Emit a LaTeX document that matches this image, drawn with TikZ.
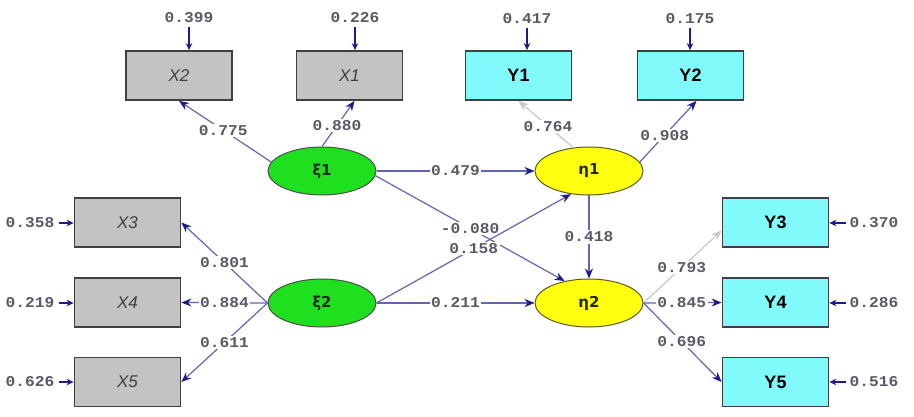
\documentclass[tikz,border=0pt]{standalone}
\usepackage{fontspec}
\newfontfamily\numfont[FakeStretch=1.08]{Liberation Mono}
\newfontfamily\boxfont{Liberation Sans}
\newfontfamily\greekfont{DejaVu Sans}
\usetikzlibrary{arrows.meta,shapes.geometric,calc}
\definecolor{linec}{HTML}{6464B4}
\definecolor{headc}{HTML}{1C1C8C}
\definecolor{numc}{HTML}{5A5A66}
\definecolor{grayfill}{HTML}{C3C3C3}
\definecolor{boxedge}{HTML}{404040}
\definecolor{cyanfill}{HTML}{80FAFA}
\definecolor{greenfill}{HTML}{1EE01E}
\definecolor{yellowfill}{HTML}{FFFF10}
\definecolor{yellowedge}{HTML}{5A5A20}
\definecolor{lightarrow}{HTML}{C8C8C8}
\begin{document}
\begin{tikzpicture}[x=1pt,y=-1pt,
  xbox/.style={rectangle,draw=boxedge,line width=1.8pt,fill=grayfill,minimum width=106pt,minimum height=49pt,inner sep=0pt,font=\boxfont\itshape\fontsize{17}{17}\selectfont,text=black!75},
  ybox/.style={rectangle,draw=boxedge,line width=1.8pt,fill=cyanfill,minimum width=106pt,minimum height=49pt,inner sep=0pt,font=\boxfont\bfseries\fontsize{18}{18}\selectfont,text=black},
  xilat/.style={ellipse,draw=black!70,line width=1pt,fill=greenfill,minimum width=108pt,minimum height=48pt,inner sep=0pt,font=\greekfont\bfseries\fontsize{15}{15}\selectfont,text=black!85},
  etalat/.style={xilat,fill=yellowfill,draw=yellowedge},
  conn/.style={draw=linec,line width=1.2pt,-{Stealth[length=10pt,width=8pt,color=headc]}},
  pale/.style={draw=lightarrow,line width=1.2pt,-{Stealth[length=10pt,width=8pt,color=lightarrow]}},
  lbl/.style={fill=white,inner sep=1.5pt,font=\numfont\bfseries\fontsize{15}{15}\selectfont,text=numc},
  errlbl/.style={inner sep=0pt,font=\numfont\bfseries\fontsize{15}{15}\selectfont,text=numc},
  err/.style={draw=headc,line width=2.2pt,-{Stealth[length=7pt,width=6.5pt]}}
]
\fill[white] (0,0) rectangle (914,417);
\useasboundingbox (0,0) rectangle (914,417);

% observed variables
\node[xbox] (X2) at (179,75.5) {X2};
\node[xbox] (X1) at (349.5,75.5) {X1};
\node[ybox] (Y1) at (518.5,75.5) {Y1};
\node[ybox] (Y2) at (690.5,75.5) {Y2};
\node[xbox] (X3) at (127.5,222.5) {X3};
\node[xbox] (X4) at (127.5,302.5) {X4};
\node[xbox] (X5) at (127.5,382) {X5};
\node[ybox] (Y3) at (775.5,222.5) {Y3};
\node[ybox] (Y4) at (775.5,302.5) {Y4};
\node[ybox] (Y5) at (775.5,382) {Y5};

% latent variables
\node[xilat] (xi1) at (322,171) {ξ1};
\node[xilat] (xi2) at (322,303) {ξ2};
\node[etalat] (eta1) at (589,171) {η1};
\node[etalat] (eta2) at (589,303) {η2};

% error terms
\node[errlbl] (e2) at (189,18) {0.399};
\node[errlbl] (e1) at (355,18) {0.226};
\node[errlbl] (ey1) at (527,19) {0.417};
\node[errlbl] (ey2) at (690,19) {0.175};
\node[errlbl] (e3) at (30,223) {0.358};
\node[errlbl] (e4) at (30,303) {0.219};
\node[errlbl] (e5) at (30,382) {0.626};
\node[errlbl] (ey3) at (874,223) {0.370};
\node[errlbl] (ey4) at (874,303) {0.286};
\node[errlbl] (ey5) at (874,382) {0.516};

\draw[err] ($(e2.south)+(0,4)$) -- (e2.south |- X2.north);
\draw[err] ($(e1.south)+(0,4)$) -- (e1.south |- X1.north);
\draw[err] ($(ey1.south)+(0,4)$) -- (ey1.south |- Y1.north);
\draw[err] ($(ey2.south)+(0,4)$) -- (ey2.south |- Y2.north);
\draw[err] ($(e3.east)+(4,0)$) -- (e3.east -| X3.west);
\draw[err] ($(e4.east)+(4,0)$) -- (e4.east -| X4.west);
\draw[err] ($(e5.east)+(4,0)$) -- (e5.east -| X5.west);
\draw[err] ($(ey3.west)+(-4,0)$) -- (ey3.west -| Y3.east);
\draw[err] ($(ey4.west)+(-4,0)$) -- (ey4.west -| Y4.east);
\draw[err] ($(ey5.west)+(-4,0)$) -- (ey5.west -| Y5.east);

% loadings
\draw[conn] (xi1.170) -- node[lbl,pos=0.52]{0.775} (X2.south);
\draw[conn] (xi1.north) -- node[lbl,pos=0.46]{0.880} ($(X1.south)+(5,0)$);
\draw[pale] (eta1.124) -- node[lbl,pos=0.46]{0.764} (Y1.south);
\draw[conn] (eta1.10) -- node[lbl,pos=0.44]{0.908} ($(Y2.south)+(6,0)$);
\draw[conn] (xi2.west) -- node[lbl]{0.801} (X3.east);
\draw[conn] (xi2.west) -- node[lbl]{0.884} (X4.east);
\draw[conn] (xi2.west) -- node[lbl]{0.611} (X5.east);
\draw[pale] (eta2.east) -- node[lbl,pos=0.49]{0.793} ($(Y3.west)+(0,8)$);
\draw[conn] (eta2.east) -- node[lbl,pos=0.49]{0.845} (Y4.west);
\draw[conn] (eta2.east) -- node[lbl,pos=0.49]{0.696} (Y5.west);

% structural paths
\draw[conn] (xi1.east) -- node[lbl]{0.479} (eta1.west);
\draw[conn] (xi1.355) -- node[lbl]{-0.080} (eta2.138);
\draw[conn] (xi2.east) -- node[lbl]{0.158} (eta1.232);
\draw[conn] (xi2.east) -- node[lbl]{0.211} (eta2.west);
\draw[conn] (eta1.south) -- node[lbl]{0.418} (eta2.north);
\end{tikzpicture}
\end{document}
